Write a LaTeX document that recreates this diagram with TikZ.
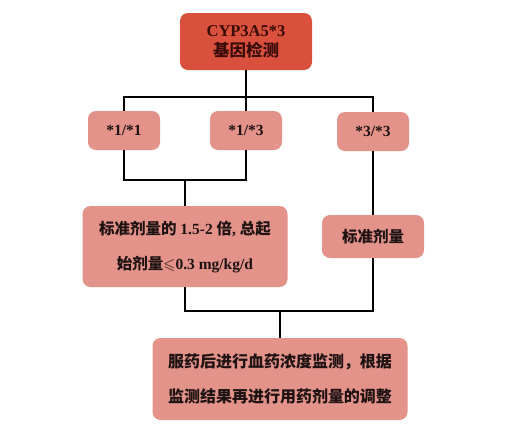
\documentclass[tikz,border=0pt]{standalone}
\usepackage{amssymb}
\usepackage{fontspec}
\setmainfont{Liberation Serif}
\newfontfamily\cjk{Noto Sans CJK SC}
\begin{document}
\begin{tikzpicture}[x=1pt,y=-1pt,
  box/.style={rectangle, rounded corners=8pt, fill=pinkbox, draw=none, align=center, inner sep=0pt, font=\bfseries\fontsize{15.5}{35}\selectfont, text=textdark},
  topbox/.style={box, fill=redbox, text=topdark, font=\bfseries\fontsize{16.5}{20}\selectfont},
  conn/.style={line width=2.6pt, draw=black}]
\definecolor{pinkbox}{HTML}{E3938A}
\definecolor{redbox}{HTML}{D9503C}
\definecolor{textdark}{HTML}{1E1212}
\definecolor{topdark}{HTML}{3A0C08}
\useasboundingbox[fill=white] (0,0) rectangle (531,440);

\node[topbox, minimum width=132pt, minimum height=57pt] (top) at (246,41.5) {CYP3A5*3\\{\cjk 基因检测}};
\node[box, minimum width=72pt, minimum height=39pt] (n11) at (124,130.5) {*1/*1};
\node[box, minimum width=72pt, minimum height=39pt] (n13) at (246,130.5) {*1/*3};
\node[box, minimum width=72pt, minimum height=39pt] (n33) at (373,131.5) {*3/*3};
\node[box, minimum width=205pt, minimum height=81pt] (left) at (185,246.5)
  {{\cjk 标准剂量的} 1.5-2 {\cjk 倍}, {\cjk 总起}\\{\cjk 始剂量}$\leqslant$0.3 mg/kg/d};
\node[box, minimum width=102pt, minimum height=43pt] (right) at (373,236.5) {{\cjk 标准剂量}};
\node[box, minimum width=255pt, minimum height=82pt, font=\bfseries\fontsize{16}{35}\selectfont] (bottom) at (280,379)
  {{\cjk 服药后进行血药浓度监测，根据}\\{\cjk 监测结果再进行用药剂量的调整}};

\coordinate (bar) at (246,97);
\coordinate (j1) at (185,180);
\coordinate (j2) at (280,311);

\draw[conn] (top.south) -- (bar);
\draw[conn] (n11.north) |- (bar) -| (n33.north);
\draw[conn] (bar) -- (n13.north);
\draw[conn] (n11.south) |- (j1) -| (n13.south);
\draw[conn] (j1) -- (left.north);
\draw[conn] (left.south) |- (j2) -| (right.south);
\draw[conn] (n33.south) -- (right.north);
\draw[conn] (j2) -- (bottom.north);
\end{tikzpicture}
\end{document}
